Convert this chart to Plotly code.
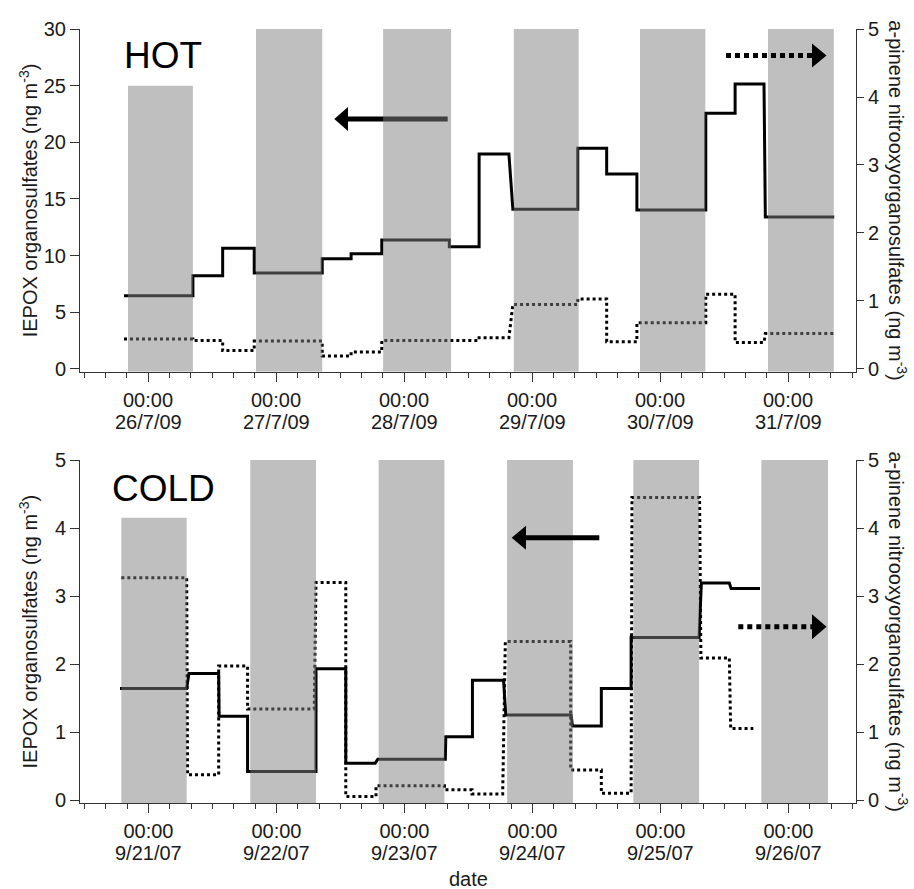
import plotly.graph_objects as go

# ---------------- HOT (July 2009) ----------------
hot_start = ["2009-07-25 19:30", "2009-07-26 08:25", "2009-07-26 14:00", "2009-07-26 19:55",
             "2009-07-27 08:40", "2009-07-27 14:05", "2009-07-27 19:50", "2009-07-28 08:30",
             "2009-07-28 14:05", "2009-07-28 20:25", "2009-07-29 08:35", "2009-07-29 14:00",
             "2009-07-29 19:40", "2009-07-30 08:35", "2009-07-30 14:05", "2009-07-30 19:45"]
hot_end = ["2009-07-26 08:25", "2009-07-26 14:00", "2009-07-26 19:55", "2009-07-27 08:40",
           "2009-07-27 14:05", "2009-07-27 19:50", "2009-07-28 08:30", "2009-07-28 14:05",
           "2009-07-28 19:40", "2009-07-29 08:35", "2009-07-29 14:00", "2009-07-29 19:40",
           "2009-07-30 08:35", "2009-07-30 14:05", "2009-07-30 19:30", "2009-07-31 08:40"]
hot_iepox = [6.47, 8.23, 10.65, 8.47, 9.73, 10.17, 11.38, 10.79,
             18.97, 14.09, 19.47, 17.2, 14.03, 22.56, 25.15, 13.41]
hot_nos = [0.44, 0.42, 0.27, 0.41, 0.19, 0.25, 0.42, 0.42,
           0.46, 0.95, 1.03, 0.40, 0.68, 1.10, 0.39, 0.52]
hot_night_start = ["2009-07-25 20:15", "2009-07-26 20:15", "2009-07-27 20:05",
                   "2009-07-28 20:35", "2009-07-29 20:15", "2009-07-30 20:15"]
hot_night_end = ["2009-07-26 08:25", "2009-07-27 08:40", "2009-07-28 08:50",
                 "2009-07-29 08:45", "2009-07-30 08:30", "2009-07-31 08:35"]
hot_night_top = [25, 30, 30, 30, 30, 30]          # left-axis units
hot_tick_days = ["2009-07-26", "2009-07-27", "2009-07-28", "2009-07-29", "2009-07-30", "2009-07-31"]
hot_tick_labels = ["26/7/09", "27/7/09", "28/7/09", "29/7/09", "30/7/09", "31/7/09"]

# ---------------- COLD (September 2007) ----------------
cold_start = ["2007-09-20 18:40", "2007-09-21 07:35", "2007-09-21 13:15", "2007-09-21 18:35",
              "2007-09-22 07:25", "2007-09-22 13:00", "2007-09-22 19:00", "2007-09-23 07:45",
              "2007-09-23 12:45", "2007-09-23 19:00", "2007-09-24 07:30", "2007-09-24 12:55",
              "2007-09-24 18:30", "2007-09-25 07:40", "2007-09-25 13:15"]
cold_end = ["2007-09-21 07:10", "2007-09-21 13:10", "2007-09-21 18:35", "2007-09-22 07:25",
            "2007-09-22 13:00", "2007-09-22 18:30", "2007-09-23 07:40", "2007-09-23 12:45",
            "2007-09-23 18:35", "2007-09-24 07:15", "2007-09-24 12:55", "2007-09-24 18:30",
            "2007-09-25 07:15", "2007-09-25 12:55", "2007-09-25 18:40"]
cold_iepox = [1.64, 1.86, 1.23, 0.42, 1.93, 0.54, 0.60, 0.93,
              1.76, 1.25, 1.09, 1.64, 2.39, 3.19, 3.11]
cold_nos_start = ["2007-09-20 18:55", "2007-09-21 07:20", "2007-09-21 13:10", "2007-09-21 18:35",
                  "2007-09-22 07:25", "2007-09-22 13:00", "2007-09-22 18:40", "2007-09-23 07:30",
                  "2007-09-23 12:40", "2007-09-23 18:55", "2007-09-24 07:10", "2007-09-24 12:55",
                  "2007-09-24 18:40", "2007-09-25 07:35", "2007-09-25 13:10"]
cold_nos_end = ["2007-09-21 07:10", "2007-09-21 13:10", "2007-09-21 18:35", "2007-09-22 07:05",
                "2007-09-22 13:00", "2007-09-22 18:40", "2007-09-23 07:30", "2007-09-23 12:40",
                "2007-09-23 18:25", "2007-09-24 07:10", "2007-09-24 12:55", "2007-09-24 18:30",
                "2007-09-25 07:20", "2007-09-25 12:55", "2007-09-25 17:25"]
cold_nos = [3.27, 0.37, 1.97, 1.34, 3.20, 0.05, 0.21, 0.15,
            0.09, 2.33, 0.44, 0.10, 4.45, 2.09, 1.05]
cold_night_start = ["2007-09-20 18:55", "2007-09-21 19:05", "2007-09-22 19:10",
                    "2007-09-23 19:15", "2007-09-24 18:55", "2007-09-25 18:55"]
cold_night_end = ["2007-09-21 07:10", "2007-09-22 07:25", "2007-09-23 07:30",
                  "2007-09-24 07:35", "2007-09-25 07:15", "2007-09-26 07:25"]
cold_night_top = [4.15, 5, 5, 5, 5, 5]
cold_tick_days = ["2007-09-21", "2007-09-22", "2007-09-23", "2007-09-24", "2007-09-25", "2007-09-26"]
cold_tick_labels = ["9/21/07", "9/22/07", "9/23/07", "9/24/07", "9/25/07", "9/26/07"]

# axis ranges
hot_x_range = ["2009-07-25 11:15", "2009-07-31 12:45"]
cold_x_range = ["2007-09-20 11:10", "2007-09-26 12:40"]
hot_yl_range = [-0.24, 30]
hot_yr_range = [-0.04, 5]
cold_yl_range = [-0.044, 5]
cold_yr_range = [-0.044, 5]

FONT = "Liberation Sans, Arial, sans-serif"
TXT = "#1a1a1a"
AX = "#333333"


def steps(starts, ends, vals):
    xs, ys = [], []
    for s, e, v in zip(starts, ends, vals):
        xs += [s, e]
        ys += [v, v]
    return xs, ys


def rects(starts, ends, tops, base):
    xs, ys = [], []
    for s, e, t in zip(starts, ends, tops):
        xs += [s, s, e, e, s, None]
        ys += [base, t, t, base, base, None]
    return xs, ys


fig = go.Figure()

# HOT panel
x, y = steps(hot_start, hot_end, hot_iepox)
fig.add_trace(go.Scatter(x=x, y=y, mode="lines", line=dict(color="black", width=3),
                         xaxis="x", yaxis="y", showlegend=False))
x, y = steps(hot_start, hot_end, hot_nos)
fig.add_trace(go.Scatter(x=x, y=y, mode="lines", line=dict(color="black", width=3, dash="3px,3px"),
                         xaxis="x", yaxis="y2", showlegend=False))
ratio = (hot_yr_range[1] - hot_yr_range[0]) / (hot_yl_range[1] - hot_yl_range[0])
tops_r = [hot_yr_range[0] + (t - hot_yl_range[0]) * ratio for t in hot_night_top]
x, y = rects(hot_night_start, hot_night_end, tops_r, hot_yr_range[0])
fig.add_trace(go.Scatter(x=x, y=y, mode="lines", fill="toself", fillcolor="rgba(128,128,128,0.5)",
                         line=dict(width=0), xaxis="x", yaxis="y2", showlegend=False,
                         hoverinfo="skip"))

# COLD panel
x, y = steps(cold_start, cold_end, cold_iepox)
fig.add_trace(go.Scatter(x=x, y=y, mode="lines", line=dict(color="black", width=3),
                         xaxis="x2", yaxis="y3", showlegend=False))
x, y = steps(cold_nos_start, cold_nos_end, cold_nos)
fig.add_trace(go.Scatter(x=x, y=y, mode="lines", line=dict(color="black", width=3, dash="3px,3px"),
                         xaxis="x2", yaxis="y4", showlegend=False))
x, y = rects(cold_night_start, cold_night_end, cold_night_top, cold_yr_range[0])
fig.add_trace(go.Scatter(x=x, y=y, mode="lines", fill="toself", fillcolor="rgba(128,128,128,0.5)",
                         line=dict(width=0), xaxis="x2", yaxis="y4", showlegend=False,
                         hoverinfo="skip"))

W, H = 914, 889
ML, MR, MT, MB = 80, 58, 29, 86
PW, PH = W - ML - MR, H - MT - MB
top_dom = [(H - MB - 371.7) / PH, 1.0]
bot_dom = [0.0, (H - MB - 460) / PH]


def xaxis(rng, ticks, anchor):
    return dict(type="date", range=rng, domain=[0, 1], anchor=anchor,
                tickvals=ticks, ticktext=["00:00"] * len(ticks),
                ticks="outside", ticklen=9, tickwidth=1, tickcolor=AX,
                minor=dict(dtick=4 * 3600 * 1000, tick0=ticks[0], ticks="outside",
                           ticklen=5, tickwidth=1, tickcolor=AX, showgrid=False),
                showline=True, linecolor=AX, linewidth=1, showgrid=False, zeroline=False,
                tickfont=dict(family=FONT, size=20, color=TXT), ticklabelstandoff=1)


def yaxis(rng, dom, side, anchor, overlay=None, ticklen=9):
    d = dict(range=rng, domain=dom, side=side, anchor=anchor, dtick=5 if rng[1] > 10 else 1,
             ticks="outside", ticklen=ticklen, tickwidth=1, tickcolor=AX,
             showline=True, linecolor=AX, linewidth=1, showgrid=False, zeroline=False,
             tickfont=dict(family=FONT, size=20, color=TXT))
    if overlay:
        d["overlaying"] = overlay
    return d


fig.update_layout(
    width=W, height=H, margin=dict(l=ML, r=MR, t=MT, b=MB),
    paper_bgcolor="white", plot_bgcolor="rgba(0,0,0,0)",
    xaxis=xaxis(hot_x_range, hot_tick_days, "y"),
    xaxis2=xaxis(cold_x_range, cold_tick_days, "y3"),
    yaxis=yaxis(hot_yl_range, top_dom, "left", "x"),
    yaxis2=yaxis(hot_yr_range, top_dom, "right", "x", overlay="y", ticklen=7),
    yaxis3=yaxis(cold_yl_range, bot_dom, "left", "x2"),
    yaxis4=yaxis(cold_yr_range, bot_dom, "right", "x2", overlay="y3", ticklen=7),
)

ann = []
for d, lab in zip(hot_tick_days, hot_tick_labels):
    ann.append(dict(x=d, xref="x", y=0, yref="y domain", text=lab, showarrow=False,
                    yanchor="middle", yshift=-50, font=dict(family=FONT, size=20, color=TXT)))
for d, lab in zip(cold_tick_days, cold_tick_labels):
    ann.append(dict(x=d, xref="x2", y=0, yref="y3 domain", text=lab, showarrow=False,
                    yanchor="middle", yshift=-50, font=dict(family=FONT, size=20, color=TXT)))

left_title = "IEPOX organosulfates (ng m<sup>-3</sup>)"
right_title = "a-pinene nitrooxyorganosulfates (ng m<sup>-3</sup>)"
for yref in ["y domain", "y3 domain"]:
    ann.append(dict(x=0, xref="paper", xshift=-52, y=0.5, yref=yref, text=left_title,
                    textangle=-90, showarrow=False, xanchor="center", yanchor="middle",
                    font=dict(family=FONT, size=20, color=TXT)))
    ann.append(dict(x=1, xref="paper", xshift=42, y=0.5, yref=yref, text=right_title,
                    textangle=90, showarrow=False, xanchor="center", yanchor="middle",
                    font=dict(family=FONT, size=20, color=TXT)))

ann.append(dict(x=(122 - ML) / PW, xref="paper", y=0.924, yref="y domain", text="HOT",
                showarrow=False, xanchor="left", yanchor="middle",
                font=dict(family=FONT, size=37, color="black")))
ann.append(dict(x=(110 - ML) / PW, xref="paper", y=0.9155, yref="y3 domain", text="COLD",
                showarrow=False, xanchor="left", yanchor="middle",
                font=dict(family=FONT, size=37, color="black")))
ann.append(dict(x=0.5, xref="paper", y=0, yref="y3 domain", yshift=-76, text="date",
                showarrow=False, xanchor="center", yanchor="middle",
                font=dict(family=FONT, size=20, color=TXT)))
fig.update_layout(annotations=ann)


def P(px, py):
    return (px - ML) / PW, (H - MB - py) / PH


def arrow(tail, base, tip, y, half, dotted, layer):
    shapes = []
    x0, y0 = P(tail, y)
    x1, _ = P(base, y)
    dash = "5px,4px" if dotted else "solid"
    shapes.append(dict(type="line", xref="paper", yref="paper", x0=x0, y0=y0, x1=x1, y1=y0,
                       line=dict(color="black", width=5, dash=dash), layer=layer))
    bx, by1 = P(base, y - half)
    _, by2 = P(base, y + half)
    tx, ty = P(tip, y)
    shapes.append(dict(type="path", xref="paper", yref="paper",
                       path=f"M {bx},{by1} L {tx},{ty} L {bx},{by2} Z",
                       fillcolor="black", line=dict(width=0), layer=layer))
    return shapes


shapes = []
shapes += arrow(447.7, 348, 334.3, 119, 12, False, "below")
shapes += arrow(726, 812, 826.5, 55.5, 12, True, "above")
shapes += arrow(599.3, 526, 511.7, 537.7, 12, False, "above")
shapes += arrow(738.3, 812, 826.5, 626.7, 12.5, True, "above")
fig.update_layout(shapes=shapes)

fig.write_html("out.html", config={"displayModeBar": False},
               post_script="document.body.style.margin='0';document.body.style.overflow='hidden';")
